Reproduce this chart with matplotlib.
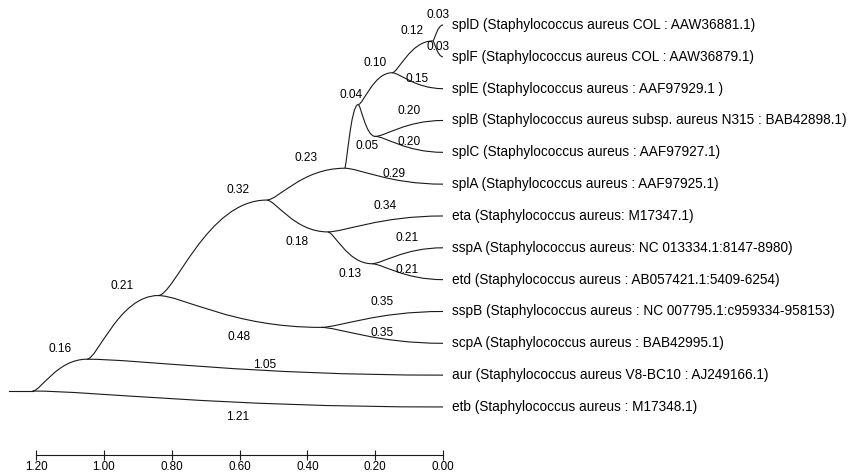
import matplotlib
matplotlib.use("Agg")
import matplotlib.pyplot as plt
from matplotlib.path import Path
from matplotlib.patches import PathPatch

plt.rcParams['font.family'] = ['Liberation Sans', 'DejaVu Sans']

# leaves, top to bottom
LEAVES = ["splD", "splF", "splE", "splB", "splC", "splA", "eta",
          "sspA", "etd", "sspB", "scpA", "aur", "etb"]
LEAF_LABELS = [
    "splD (Staphylococcus aureus COL : AAW36881.1)",
    "splF (Staphylococcus aureus COL : AAW36879.1)",
    "splE (Staphylococcus aureus : AAF97929.1 )",
    "splB (Staphylococcus aureus subsp. aureus N315 : BAB42898.1)",
    "splC (Staphylococcus aureus : AAF97927.1)",
    "splA (Staphylococcus aureus : AAF97925.1)",
    "eta (Staphylococcus aureus: M17347.1)",
    "sspA (Staphylococcus aureus: NC 013334.1:8147-8980)",
    "etd (Staphylococcus aureus : AB057421.1:5409-6254)",
    "sspB (Staphylococcus aureus : NC 007795.1:c959334-958153)",
    "scpA (Staphylococcus aureus : BAB42995.1)",
    "aur (Staphylococcus aureus V8-BC10 : AJ249166.1)",
    "etb (Staphylococcus aureus : M17348.1)",
]

# tree edges (parent listed before its children)
PARENT = ["root", "root", "A", "A", "B", "B", "C", "C", "D", "D",
          "E", "E", "H", "H", "I", "I", "K", "K", "J", "J",
          "F", "F", "G", "G"]
CHILD = ["A", "etb", "B", "aur", "D", "C", "sspB", "scpA", "E", "F",
         "H", "splA", "I", "J", "K", "splE", "splD", "splF", "splB", "splC",
         "eta", "G", "sspA", "etd"]
BRANCH_LEN = [0.16, 1.21, 0.21, 1.05, 0.32, 0.48, 0.35, 0.35, 0.23, 0.18,
              0.04, 0.29, 0.10, 0.05, 0.12, 0.15, 0.03, 0.03, 0.20, 0.20,
              0.34, 0.13, 0.21, 0.21]

# branches whose length label sits under the branch
LABEL_BELOW = {"etb", "C", "F", "G", "J"}
# label nudged toward the tips (in branch-length units)
LABEL_NUDGE = {"D": 0.075}

TREE_HEIGHT = 1.21
LINE_COLOR = "#1a1a1a"
LW = 0.8
FS_LEAF = 9.85
FS_LEN = 8.6
FS_TICK = 8.4

# --- layout ---------------------------------------------------------------
depth = {"root": 0.0}
leaf_set = {name: [i] for i, name in enumerate(LEAVES)}
children = {}
for p, c, l in zip(PARENT, CHILD, BRANCH_LEN):
    depth[c] = depth[p] + l
    children.setdefault(p, []).append(c)

xpos = {}
for n, d in depth.items():
    xpos[n] = 0.0 if n in leaf_set else TREE_HEIGHT - d


def leaves_of(n):
    if n in leaf_set:
        return leaf_set[n]
    out = []
    for c in children[n]:
        out += leaves_of(c)
    return out


ypos = {}
for i, name in enumerate(LEAVES):
    ypos[name] = i
for n in children:
    groups = sorted((leaves_of(c) for c in children[n]), key=min)
    ypos[n] = (max(groups[0]) + min(groups[1])) / 2.0

# --- figure ---------------------------------------------------------------
fig = plt.figure(figsize=(8.6, 4.75), dpi=100)
ax = fig.add_axes([0, 0, 1, 1])
px_per_unit = (443 - 36) / 1.2
row_px = 31.83
ax.set_xlim(443 / px_per_unit, (443 - 860) / px_per_unit)
ax.set_ylim((475 - 25) / row_px, -25 / row_px)
ax.axis("off")

for p, c, l in zip(PARENT, CHILD, BRANCH_LEN):
    xp, yp = xpos[p], ypos[p]
    xc, yc = xpos[c], ypos[c]
    d = xp - xc
    verts = [(xp, yp), (xp - 0.15 * d, yp), (xp - 0.45 * d, yc), (xc, yc)]
    path = Path(verts, [Path.MOVETO, Path.CURVE4, Path.CURVE4, Path.CURVE4])
    ax.add_patch(PathPatch(path, fill=False, color=LINE_COLOR, lw=LW))
    dy = 0.31 if c in LABEL_BELOW else -0.31
    lx = (xp + xc) / 2 - LABEL_NUDGE.get(c, 0.0)
    ax.text(lx, yc + dy, "%.2f" % l, fontsize=FS_LEN,
            ha="center", va="center")

# root stub
ax.plot([xpos["root"] + 0.07, xpos["root"]], [ypos["root"]] * 2,
        color=LINE_COLOR, lw=LW)

for name, lab in zip(LEAVES, LEAF_LABELS):
    ax.text(-0.028, ypos[name], lab, fontsize=FS_LEAF, ha="left", va="center")

# scale bar
sax = fig.add_axes([36 / 860, (475 - 455) / 475, (443 - 36) / 860, 1e-4])
sax.set_xlim(1.2, 0.0)
sax.set_xticks([1.2, 1.0, 0.8, 0.6, 0.4, 0.2, 0.0])
sax.set_xticklabels(["1.20", "1.00", "0.80", "0.60", "0.40", "0.20", "0.00"])
sax.set_yticks([])
for s in ["top", "left", "right"]:
    sax.spines[s].set_visible(False)
sax.spines["bottom"].set_linewidth(LW)
sax.spines["bottom"].set_color(LINE_COLOR)
sax.tick_params(axis="x", direction="inout", length=7, width=LW,
                colors=LINE_COLOR, labelsize=FS_TICK, pad=1, labelcolor="black")

fig.savefig("out.png", dpi=100, facecolor="white")
